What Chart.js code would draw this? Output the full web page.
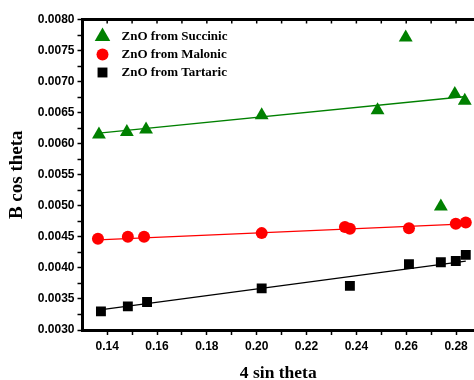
<!DOCTYPE html>
<html>
<head>
<meta charset="utf-8">
<script src="https://cdn.jsdelivr.net/npm/chart.js@4"></script>
<style>
  html, body { margin: 0; padding: 0; background: #fff; }
</style>
</head>
<body>
<canvas id="chart" width="474" height="380"></canvas>
<script>
// series names (legend)
const seriesNames = ['ZnO from Succinic', 'ZnO from Malonic', 'ZnO from Tartaric'];

// 4 sin theta / B cos theta
const succinicX = [0.1367, 0.1479, 0.1556, 0.2020, 0.2485, 0.2598, 0.2739, 0.2795, 0.2835];
const succinicY = [0.00615, 0.00619, 0.00623, 0.00646, 0.00654, 0.00771, 0.00499, 0.00680, 0.00669];

const malonicX = [0.1363, 0.1483, 0.1548, 0.2020, 0.2354, 0.2374, 0.2611, 0.2799, 0.2839];
const malonicY = [0.00447, 0.00450, 0.00450, 0.00456, 0.00466, 0.00463, 0.00464, 0.00471, 0.00473];

const tartaricX = [0.1375, 0.1483, 0.1560, 0.2020, 0.2374, 0.2611, 0.2739, 0.2799, 0.2839];
const tartaricY = [0.00330, 0.00338, 0.00345, 0.00367, 0.00371, 0.00406, 0.00409, 0.00411, 0.00421];

// linear fit end points
const succinicFitX = [0.1367, 0.2839];
const succinicFitY = [0.00617, 0.00676];
const malonicFitX = [0.1363, 0.2839];
const malonicFitY = [0.00445, 0.00471];
const tartaricFitX = [0.1363, 0.2839];
const tartaricFitY = [0.00332, 0.00411];

// axes
const xRange = [0.1301, 0.2872];
const yRange = [0.0030, 0.0080];
const xStep = 0.01;
const yStep = 0.00025;

const toPoints = (xs, ys) => xs.map((x, i) => ({ x: x, y: ys[i] }));

const serif = '"Liberation Serif", "Times New Roman", serif';
const tickFont = { family: '"Liberation Sans", Arial, sans-serif', size: 12, weight: 'bold' };

// top border with small inward ticks
const framePlugin = {
  id: 'frame',
  afterDraw(chart) {
    const { ctx, chartArea: a } = chart;
    const x = chart.scales.x;
    ctx.save();
    ctx.strokeStyle = '#000';
    ctx.lineWidth = 3;
    ctx.beginPath();
    ctx.moveTo(a.left - 1.5, a.top);
    ctx.lineTo(a.right, a.top);
    ctx.stroke();
    ctx.lineWidth = 1.5;
    x.ticks.forEach(t => {
      const px = x.getPixelForValue(t.value);
      ctx.beginPath();
      ctx.moveTo(px, a.top);
      ctx.lineTo(px, a.top + 4);
      ctx.stroke();
    });
    ctx.restore();
  }
};

// legend inside the plot, top left
const legendPlugin = {
  id: 'insideLegend',
  afterDatasetsDraw(chart) {
    const { ctx, chartArea: a } = chart;
    ctx.save();
    ctx.font = 'bold 13px ' + serif;
    ctx.textBaseline = 'middle';
    ctx.textAlign = 'left';
    seriesNames.forEach((name, i) => {
      const ds = chart.data.datasets[i];
      const cy = a.top + 17 + i * 18;
      ctx.fillStyle = ds.backgroundColor;
      ctx.strokeStyle = ds.borderColor;
      Chart.helpers.drawPoint(ctx, { pointStyle: ds.pointStyle, radius: i === 0 ? 9 : ds.pointRadius, borderWidth: 0, rotation: 0 }, a.left + 20, cy);
      ctx.fillStyle = '#000';
      ctx.fillText(name, a.left + 39, cy);
    });
    ctx.restore();
  }
};

const markers = (label, xs, ys, color, style, radius) => ({
  label: label,
  data: toPoints(xs, ys),
  backgroundColor: color,
  borderColor: color,
  borderWidth: 0,
  pointStyle: style,
  pointRadius: radius,
  showLine: false
});

const fitLine = (xs, ys, color) => ({
  data: toPoints(xs, ys),
  borderColor: color,
  borderWidth: 1.3,
  pointRadius: 0,
  showLine: true,
  fill: false
});

new Chart(document.getElementById('chart').getContext('2d'), {
  type: 'scatter',
  data: {
    datasets: [
      markers(seriesNames[0], succinicX, succinicY, '#008000', 'triangle', 8),
      markers(seriesNames[1], malonicX, malonicY, '#ff0000', 'circle', 6),
      markers(seriesNames[2], tartaricX, tartaricY, '#000000', 'rect', 7),
      fitLine(succinicFitX, succinicFitY, '#008000'),
      fitLine(malonicFitX, malonicFitY, '#ff0000'),
      fitLine(tartaricFitX, tartaricFitY, '#000000')
    ]
  },
  options: {
    responsive: false,
    animation: false,
    devicePixelRatio: 1,
    layout: { autoPadding: false, padding: { top: 19.5, right: 0, left: 0, bottom: 0 } },
    plugins: {
      legend: { display: false },
      tooltip: { enabled: false }
    },
    scales: {
      x: {
        type: 'linear',
        min: xRange[0],
        max: xRange[1],
        afterFit: s => { s.height = 50; s.paddingRight = 0; s.paddingLeft = 0; },
        ticks: {
          stepSize: xStep,
          includeBounds: false,
          autoSkip: false,
          maxRotation: 0,
          color: '#000',
          font: tickFont,
          padding: 4,
          callback: v => (Math.round(v * 100) % 2 === 0 ? v.toFixed(2) : '')
        },
        grid: { drawOnChartArea: false, tickLength: 5, tickColor: '#000', tickWidth: 1.5 },
        border: { color: '#000', width: 3 },
        title: { display: true, text: '4 sin theta', color: '#000', font: { family: serif, size: 17.5, weight: 'bold', lineHeight: 0.8 }, padding: { top: 0, bottom: 0 } }
      },
      y: {
        min: yRange[0],
        max: yRange[1],
        afterFit: s => { s.width = 82.5; },
        ticks: {
          stepSize: yStep,
          includeBounds: false,
          autoSkip: false,
          color: '#000',
          font: tickFont,
          padding: 3,
          callback: v => (Math.round(v / yStep) % 2 === 0 ? v.toFixed(4) : '')
        },
        grid: { drawOnChartArea: false, tickLength: 5, tickColor: '#000', tickWidth: 1.5 },
        border: { color: '#000', width: 3 },
        title: { display: true, text: 'B cos theta', color: '#000', font: { family: serif, size: 19, weight: 'bold', lineHeight: 1.2 }, padding: { top: 6, bottom: 0 } }
      }
    }
  },
  plugins: [framePlugin, legendPlugin]
});
</script>
</body>
</html>
